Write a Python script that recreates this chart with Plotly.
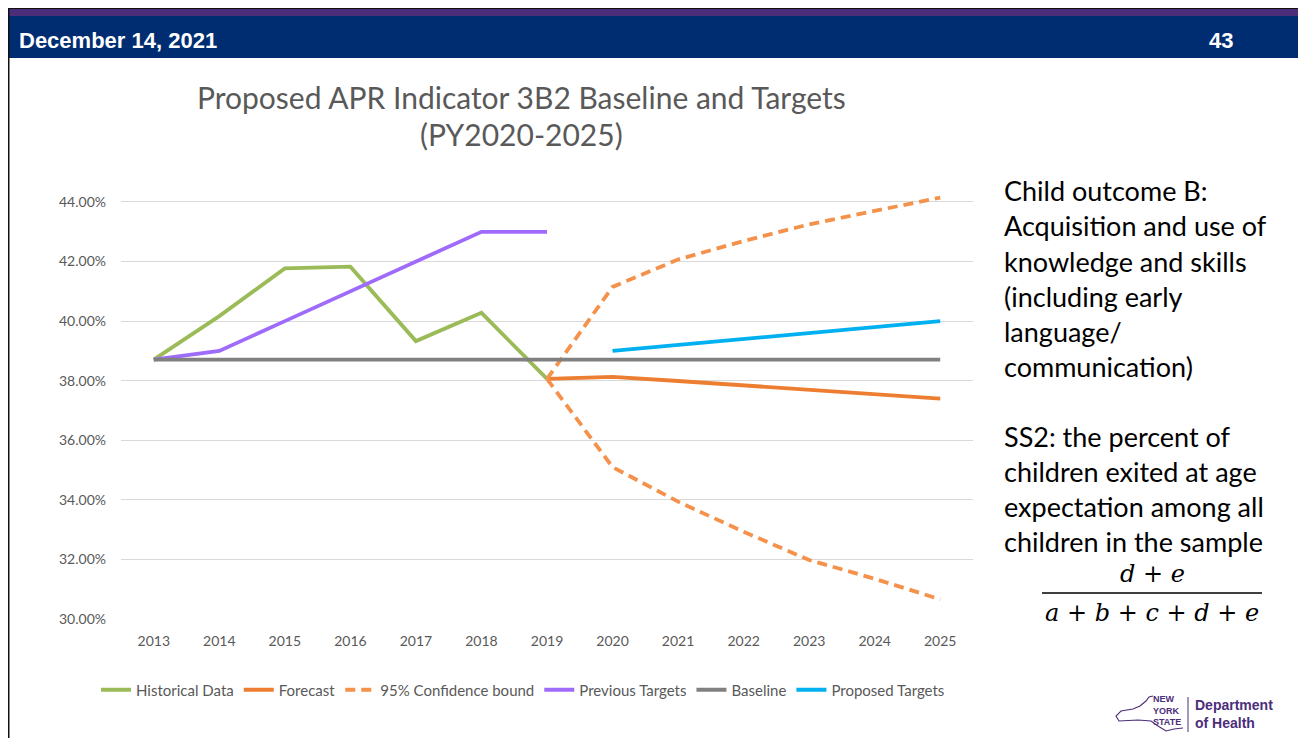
import plotly.graph_objects as go

# ---------------- data ----------------
years_hist = [2013, 2014, 2015, 2016, 2017, 2018, 2019]
historical = [38.71, 40.17, 41.77, 41.83, 39.33, 40.28, 38.06]
previous_targets = [38.71, 39.00, 40.00, 41.00, 42.00, 43.00, 43.00]

years_all = [2013, 2014, 2015, 2016, 2017, 2018, 2019, 2020, 2021, 2022, 2023, 2024, 2025]
baseline = [38.71, 38.71, 38.71, 38.71, 38.71, 38.71, 38.71, 38.71, 38.71, 38.71, 38.71, 38.71, 38.71]

years_fc = [2019, 2020, 2021, 2022, 2023, 2024, 2025]
forecast = [38.06, 38.13, 37.99, 37.84, 37.70, 37.55, 37.40]
ci_upper = [38.06, 41.15, 42.07, 42.69, 43.25, 43.70, 44.15]
ci_lower = [38.06, 35.10, 33.94, 32.93, 31.98, 31.35, 30.66]

years_prop = [2020, 2021, 2022, 2023, 2024, 2025]
proposed = [39.00, 39.20, 39.40, 39.60, 39.80, 40.00]

y_ticks = [30, 32, 34, 36, 38, 40, 42, 44]

title_lines = ["Proposed APR Indicator 3B2 Baseline and Targets", "(PY2020-2025)"]
side_lines_1 = ["Child outcome B:", "Acquisition and use of", "knowledge and skills",
                "(including early", "language/", "communication)"]
side_lines_2 = ["SS2: the percent of", "children exited at age",
                "expectation among all", "children in the sample"]

# ---------------- figure ----------------
W, H = 1306, 738
OFF = 8  # page body margin offset


def px(pix):
    return (pix - OFF) / W


def py(pix):
    return 1 - (pix - OFF) / H


GREEN = "#9BBB59"
ORANGE = "#ED7D31"
ORANGE_D = "#F4914B"
PURPLE = "#9F6BFA"
GRAY = "#808080"
BLUE = "#00B0F0"
NAVY = "#002D72"
DOH = "#4B2D7A"
LW = 3.8
DASH = "10px,6px"

# y axis: 30 at pixel 619, 44 at pixel 202; a little headroom above 44 so the top bound isn't clipped
Y_LO, Y_HI, Y_TOP = 30, 44, 44.6
PIX_PER = (619 - 202) / (Y_HI - Y_LO)
top_pix = 202 - (Y_TOP - Y_HI) * PIX_PER

fig = go.Figure()
fig.add_trace(go.Scatter(x=years_hist, y=historical, mode="lines", name="Historical Data",
                         line=dict(color=GREEN, width=LW)))
fig.add_trace(go.Scatter(x=years_fc, y=forecast, mode="lines", name="Forecast",
                         line=dict(color=ORANGE, width=LW)))
fig.add_trace(go.Scatter(x=years_fc, y=ci_upper, mode="lines", name="95% Confidence bound",
                         legendgroup="ci", line=dict(color=ORANGE_D, width=LW, dash=DASH)))
fig.add_trace(go.Scatter(x=years_fc, y=ci_lower, mode="lines", name="95% Confidence bound",
                         legendgroup="ci", showlegend=False,
                         line=dict(color=ORANGE_D, width=LW, dash=DASH)))
fig.add_trace(go.Scatter(x=years_hist, y=previous_targets, mode="lines", name="Previous Targets",
                         line=dict(color=PURPLE, width=LW)))
fig.add_trace(go.Scatter(x=years_all, y=baseline, mode="lines", name="Baseline",
                         line=dict(color=GRAY, width=LW)))
fig.add_trace(go.Scatter(x=years_prop, y=proposed, mode="lines", name="Proposed Targets",
                         line=dict(color=BLUE, width=LW)))

TICKFONT = dict(family="Lato, Open Sans, sans-serif", size=14, color="#595959")

fig.update_layout(
    width=W, height=H,
    margin=dict(l=0, r=0, t=0, b=0),
    paper_bgcolor="white", plot_bgcolor="white",
    showlegend=True,
    legend=dict(orientation="h", x=px(523), xanchor="center", y=py(690), yanchor="middle",
                font=dict(family="Lato, Open Sans, sans-serif", size=15, color="#595959"),
                bgcolor="rgba(0,0,0,0)", itemwidth=30, tracegroupgap=0),
    xaxis=dict(domain=[px(121), px(973)], range=[2012.5, 2025.5], tickmode="array",
               tickvals=years_all, ticktext=[str(y) for y in years_all],
               showgrid=False, zeroline=False, showline=False, ticks="",
               tickfont=TICKFONT, automargin=False, ticklabelstandoff=12, fixedrange=True),
    yaxis=dict(domain=[py(619), py(top_pix)], range=[Y_LO, Y_TOP], tickmode="array",
               tickvals=y_ticks, ticktext=[f"{v:.2f}%" for v in y_ticks],
               showgrid=True, gridcolor="#D9D9D9", gridwidth=1.3, zeroline=False,
               showline=False, ticks="", tickfont=TICKFONT, automargin=False,
               ticklabelstandoff=14, fixedrange=True),
)

shapes = []
# header
shapes.append(dict(type="rect", xref="paper", yref="paper", x0=px(7), x1=1.01, y0=py(58), y1=py(16),
                   fillcolor=NAVY, line=dict(width=0), layer="below"))
shapes.append(dict(type="rect", xref="paper", yref="paper", x0=px(7), x1=1.01, y0=py(16), y1=py(9),
                   fillcolor=DOH, line=dict(width=0), layer="below"))
shapes.append(dict(type="rect", xref="paper", yref="paper", x0=px(7), x1=1.01, y0=py(9), y1=py(6),
                   fillcolor="#111111", line=dict(width=0), layer="below"))
# left border
shapes.append(dict(type="rect", xref="paper", yref="paper", x0=px(6), x1=px(9.5), y0=-0.02, y1=py(6),
                   fillcolor="#111111", line=dict(width=0), layer="above"))
# fraction bar
shapes.append(dict(type="line", xref="paper", yref="paper", x0=px(1042), x1=px(1262),
                   y0=py(593), y1=py(593), line=dict(color="black", width=1.6)))
# logo separator
shapes.append(dict(type="line", xref="paper", yref="paper", x0=px(1188), x1=px(1188),
                   y0=py(697), y1=py(732), line=dict(color=DOH, width=1)))
# rough (open) state outline for the logo, wrapping round the NEW YORK STATE text
outline = [(1153, 696), (1149, 697), (1146, 701), (1140, 706), (1133, 709), (1121, 711),
           (1116, 716), (1119, 721), (1138, 720), (1151, 721), (1158, 726), (1166, 731),
           (1174, 729), (1183, 728)]
path = "M " + " L ".join(f"{px(a):.5f},{py(b):.5f}" for a, b in outline)
shapes.append(dict(type="path", xref="paper", yref="paper", path=path,
                   line=dict(color=DOH, width=1.1), fillcolor="rgba(0,0,0,0)"))
fig.update_layout(shapes=shapes)

ann = []
HDRFONT = dict(family="Liberation Sans, Arial, sans-serif", size=22, color="white")
ann.append(dict(text="<b>December 14, 2021</b>", x=px(17), y=py(41), xref="paper", yref="paper",
                xanchor="left", yanchor="middle", showarrow=False, font=HDRFONT))
ann.append(dict(text="<b>43</b>", x=px(1207), y=py(41), xref="paper", yref="paper",
                xanchor="left", yanchor="middle", showarrow=False, font=HDRFONT))
for i, t in enumerate(title_lines):
    ann.append(dict(text=t, x=px(521), y=py(97 + 37 * i), xref="paper", yref="paper",
                    xanchor="center", yanchor="middle", showarrow=False,
                    font=dict(family="Lato, Open Sans, sans-serif", size=30, color="#595959")))
SIDEFONT = dict(family="Lato, Open Sans, sans-serif", size=27, color="black")
for i, t in enumerate(side_lines_1):
    ann.append(dict(text=t, x=px(1002), y=py(191 + 35 * i), xref="paper", yref="paper",
                    xanchor="left", yanchor="middle", showarrow=False, font=SIDEFONT))
for i, t in enumerate(side_lines_2):
    ann.append(dict(text=t, x=px(1002), y=py(436 + 35 * i), xref="paper", yref="paper",
                    xanchor="left", yanchor="middle", showarrow=False, font=SIDEFONT))
MATHFONT = dict(family="DejaVu Serif, Liberation Serif, serif", size=24, color="black")
ann.append(dict(text="<i>d</i> + <i>e</i>", x=px(1152), y=py(574), xref="paper", yref="paper",
                xanchor="center", yanchor="middle", showarrow=False, font=MATHFONT))
ann.append(dict(text="<i>a</i> + <i>b</i> + <i>c</i> + <i>d</i> + <i>e</i>", x=px(1152), y=py(613),
                xref="paper", yref="paper", xanchor="center", yanchor="middle", showarrow=False,
                font=MATHFONT))
# logo text
ann.append(dict(text="<b>NEW<br>YORK<br>STATE</b>", x=px(1183), y=py(710), xref="paper", yref="paper",
                xanchor="right", yanchor="middle", showarrow=False, align="left",
                font=dict(family="Liberation Sans, Arial, sans-serif", size=9, color=DOH)))
ann.append(dict(text="<b>Department<br>of Health</b>", x=px(1193), y=py(714), xref="paper", yref="paper",
                xanchor="left", yanchor="middle", showarrow=False, align="left",
                font=dict(family="Liberation Sans, Arial, sans-serif", size=14, color=DOH)))
fig.update_layout(annotations=ann)

fig.write_html("out.html")
